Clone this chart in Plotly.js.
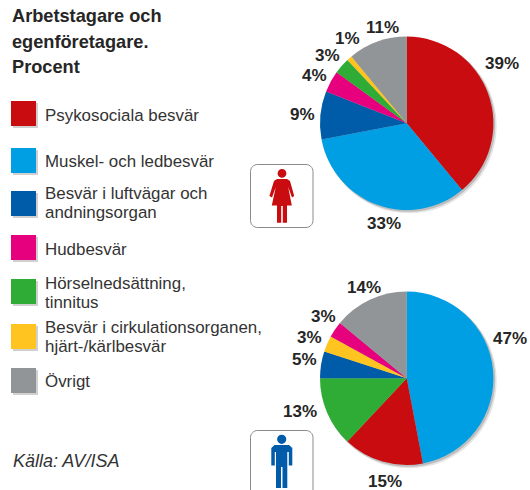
<!DOCTYPE html>
<html><head><meta charset="utf-8">
<script src="https://cdn.plot.ly/plotly-3.0.0.min.js"></script>
<style>html,body{margin:0;padding:0;background:#fff}#c{width:530px;height:490px}</style></head>
<body><div id="c"></div>
<script>
const W = 530, H = 490;
const categories = ["Psykosociala besvär","Muskel- och ledbesvär","Besvär i luftvägar och andningsorgan","Hudbesvär","Hörselnedsättning, tinnitus","Besvär i cirkulationsorganen, hjärt-/kärlbesvär","Övrigt"];
const legendLines = [["Psykosociala besvär"],["Muskel- och ledbesvär"],["Besvär i luftvägar och","andningsorgan"],["Hudbesvär"],["Hörselnedsättning,","tinnitus"],["Besvär i cirkulationsorganen,","hjärt-/kärlbesvär"],["Övrigt"]];
const colors = ["#C90C0F","#009FE3","#005CA9","#E6007E","#2FAC36","#FFC41F","#929598"];
const womenOrder = [0,1,2,3,4,5,6];
const womenValues = [39,33,9,4,3,1,11];
const menOrder = [1,0,4,2,5,3,6];
const menValues = [47,15,13,5,3,3,14];
const titleLines = ["Arbetstagare och","egenföretagare.","Procent"];
const source = "Källa: AV/ISA";

const swatchTops = [101,148,191,235,279,324,368];
const textCenters = [[116],[162],[193,212],[249],[283,302],[327,346],[381]];
const womenLabelAt = [[502.3,63.3],[384.3,223.3],[302.7,114.3],[314,75],[327,55],[347,38.3],[382.7,27.3]];
const menLabelAt = [[510,338.3],[385.3,481],[300,411.3],[304,359.3],[309.7,337.7],[323,316.7],[363.7,287.3]];
const px = x => x / W, py = y => 1 - y / H;
const sans = '"Liberation Sans", Arial, sans-serif';

function pieTrace(order, values, cx, cy, r) {
  return {
    type: 'pie', sort: false, direction: 'clockwise', rotation: 0,
    labels: order.map(i => categories[i]), values: values,
    marker: {colors: order.map(i => colors[i]), line: {width: 0}},
    textinfo: 'none', automargin: false,
    domain: {x: [px(cx - r), px(cx + r)], y: [py(cy + r), py(cy - r)]},
    hoverinfo: 'label+value', showlegend: false
  };
}
const rect = (x0,y0,x1,y1,fill) => ({type:'rect',xref:'paper',yref:'paper',x0:px(x0),x1:px(x1),y0:py(y1),y1:py(y0),fillcolor:fill,line:{width:0},layer:'below'});
const circle = (cx,cy,r,fill) => ({type:'circle',xref:'paper',yref:'paper',x0:px(cx-r),x1:px(cx+r),y0:py(cy+r),y1:py(cy-r),fillcolor:fill,line:{width:0},layer:'below'});
const poly = (pts,fill) => ({type:'path',xref:'paper',yref:'paper',path:'M'+pts.map(p=>px(p[0])+','+py(p[1])).join('L')+'Z',fillcolor:fill,line:{width:0}});
function roundBox(x0,y0,x1,y1,r){
  const k = r*0.45, P=(x,y)=>px(x)+','+py(y);
  return {type:'path',xref:'paper',yref:'paper',line:{color:'#8a8a8a',width:1},
    path:`M${P(x0+r,y0)}L${P(x1-r,y0)}C${P(x1-k,y0)} ${P(x1,y0+k)} ${P(x1,y0+r)}L${P(x1,y1-r)}C${P(x1,y1-k)} ${P(x1-k,y1)} ${P(x1-r,y1)}L${P(x0+r,y1)}C${P(x0+k,y1)} ${P(x0,y1-k)} ${P(x0,y1-r)}L${P(x0,y0+r)}C${P(x0,y0+k)} ${P(x0+k,y0)} ${P(x0+r,y0)}Z`};
}
const shapes = [];
[[406.7,123.3],[406.7,378.3]].forEach(c=>{
  shapes.push(circle(c[0]+2.5,c[1]+2.5,87.5,'#e4e4e4'));
  shapes.push(circle(c[0]+1.5,c[1]+1.5,87,'#bdbdbd'));
});
swatchTops.forEach((t,i)=>{
  shapes.push(rect(13,t+2,38,t+27,'#d0d0d0'));
  shapes.push(rect(11,t,36,t+25,colors[i]));
});
shapes.push(roundBox(250.5,164.5,313,227.5,7));
shapes.push(roundBox(250.5,430.5,313,497,7));
shapes.push(circle(282,173.3,4.4,colors[0]));
shapes.push(poly([[277,179],[287,179],[290,181],[294.2,196],[292,197.5],[288.2,187],[291.8,205.5],[287,205.5],[287,222.7],[282.8,222.7],[282.8,206],[281.2,206],[281.2,222.7],[277,222.7],[277,205.5],[271.8,205.5],[275.8,187],[272,197.5],[269.4,196],[274,181]],colors[0]));
shapes.push(circle(281.7,439.3,4.6,colors[2]));
shapes.push(poly([[274.5,445],[289,445],[292.3,448],[292.3,465.5],[288.8,465.5],[288.8,452],[287.3,452],[287.3,488],[282.5,488],[282.5,467],[281,467],[281,488],[276,488],[276,452],[274.8,452],[274.8,465.5],[271.3,465.5],[271.3,448]],colors[2]));

const ann = [];
const addText = (t,x,y,o) => ann.push(Object.assign({text:t,xref:'paper',yref:'paper',x:px(x),y:py(y),xanchor:'left',yanchor:'middle',showarrow:false,align:'left',borderpad:0},o));
titleLines.forEach((t,i)=>addText(t,11,16+i*25.5,{font:{family:sans,size:18.2,color:'#262626',weight:700}}));
legendLines.forEach((ls,i)=>ls.forEach((t,j)=>addText(t,44,textCenters[i][j],{font:{family:sans,size:16.9,color:'#333'}})));
addText('<i>'+source+'</i>',12,461,{font:{family:sans,size:18,color:'#333'}});
const labelFont = {family:sans,size:17,color:'#262626',weight:700};
womenValues.forEach((v,i)=>addText(v+'%',womenLabelAt[i][0],womenLabelAt[i][1],{xanchor:'center',font:labelFont}));
menValues.forEach((v,i)=>addText(v+'%',menLabelAt[i][0],menLabelAt[i][1],{xanchor:'center',font:labelFont}));

Plotly.newPlot('c',[pieTrace(womenOrder,womenValues,406.7,123.3,86.7),pieTrace(menOrder,menValues,406.7,378.3,86.7)],{
  width:W,height:H,margin:{l:0,r:0,t:0,b:0},paper_bgcolor:'#fff',shapes:shapes,annotations:ann
},{displayModeBar:false,staticPlot:true});
</script></body></html>
